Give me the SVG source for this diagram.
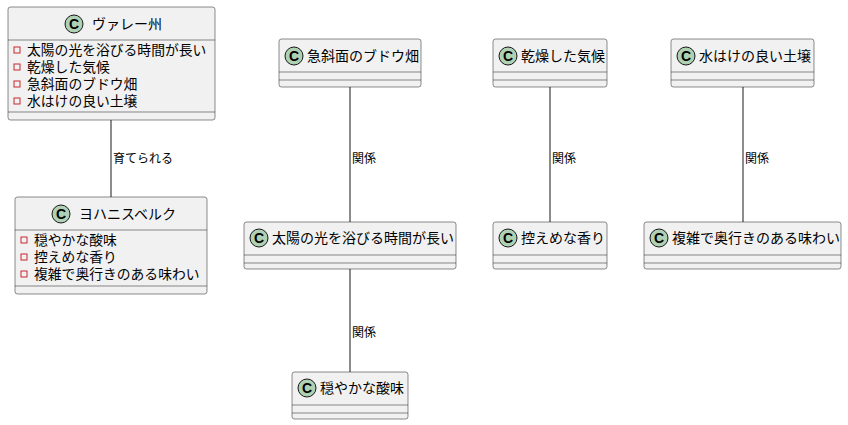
<svg xmlns="http://www.w3.org/2000/svg" width="848" height="425" viewBox="0 0 848 425">
<style>
.b{fill:#F1F1F1;stroke:#181818;stroke-width:0.5}
.l{stroke:#181818;stroke-width:0.5}
.i{fill:#ADD1B2;stroke:#181818;stroke-width:1}
.c{font-family:"Liberation Sans","Noto Sans CJK JP",sans-serif;font-size:14px;font-weight:bold;fill:#000;text-anchor:middle}
.t{font-family:"Noto Sans CJK JP",sans-serif;font-size:14px;fill:#000}
.f{font-family:"Noto Sans CJK JP",sans-serif;font-size:13.8px;fill:#000}
.e{font-family:"Noto Sans CJK JP",sans-serif;font-size:12px;fill:#000}
.v{fill:none;stroke:#C82930;stroke-width:1}
.k{stroke:#181818;stroke-width:1;fill:none}
</style>
<g id="valley">
<rect class="b" x="8" y="7" width="207" height="113" rx="2.5"/>
<circle class="i" cx="74" cy="24" r="9"/><text class="c" x="74" y="29">C</text>
<text class="t" x="92" y="29">ヴァレー州</text>
<line class="l" x1="8" y1="40" x2="215" y2="40"/>
<rect class="v" x="14" y="47" width="6" height="6"/><text class="f" x="27" y="55">太陽の光を浴びる時間が長い</text>
<rect class="v" x="14" y="64" width="6" height="6"/><text class="f" x="27" y="72">乾燥した気候</text>
<rect class="v" x="14" y="81" width="6" height="6"/><text class="f" x="27" y="89">急斜面のブドウ畑</text>
<rect class="v" x="14" y="98" width="6" height="6"/><text class="f" x="27" y="106">水はけの良い土壌</text>
<line class="l" x1="8" y1="112" x2="215" y2="112"/>
</g>
<g id="johannisberg">
<rect class="b" x="15" y="197" width="192" height="97" rx="2.5"/>
<circle class="i" cx="61" cy="214" r="9"/><text class="c" x="61" y="219">C</text>
<text class="t" x="79" y="219">ヨハニスベルク</text>
<line class="l" x1="15" y1="230" x2="207" y2="230"/>
<rect class="v" x="21" y="237" width="6" height="6"/><text class="f" x="34" y="245">穏やかな酸味</text>
<rect class="v" x="21" y="254" width="6" height="6"/><text class="f" x="34" y="262">控えめな香り</text>
<rect class="v" x="21" y="271" width="6" height="6"/><text class="f" x="34" y="279">複雑で奥行きのある味わい</text>
<line class="l" x1="15" y1="286" x2="207" y2="286"/>
</g>
<g id="slope">
<rect class="b" x="279" y="39" width="142" height="48" rx="2.5"/>
<circle class="i" cx="294" cy="56" r="9"/><text class="c" x="294" y="61">C</text>
<text class="t" x="307" y="61">急斜面のブドウ畑</text>
<line class="l" x1="279" y1="72" x2="421" y2="72"/><line class="l" x1="279" y1="80" x2="421" y2="80"/>
</g>
<g id="dry">
<rect class="b" x="493" y="39" width="114" height="48" rx="2.5"/>
<circle class="i" cx="508" cy="56" r="9"/><text class="c" x="508" y="61">C</text>
<text class="t" x="521" y="61">乾燥した気候</text>
<line class="l" x1="493" y1="72" x2="607" y2="72"/><line class="l" x1="493" y1="80" x2="607" y2="80"/>
</g>
<g id="soil">
<rect class="b" x="671" y="39" width="143" height="48" rx="2.5"/>
<circle class="i" cx="686" cy="56" r="9"/><text class="c" x="686" y="61">C</text>
<text class="t" x="699" y="61">水はけの良い土壌</text>
<line class="l" x1="671" y1="72" x2="814" y2="72"/><line class="l" x1="671" y1="80" x2="814" y2="80"/>
</g>
<g id="sun">
<rect class="b" x="244" y="222" width="212" height="47" rx="2.5"/>
<circle class="i" cx="259" cy="238" r="9"/><text class="c" x="259" y="243">C</text>
<text class="t" x="272" y="243">太陽の光を浴びる時間が長い</text>
<line class="l" x1="244" y1="255" x2="456" y2="255"/><line class="l" x1="244" y1="263" x2="456" y2="263"/>
</g>
<g id="aroma">
<rect class="b" x="493" y="222" width="114" height="47" rx="2.5"/>
<circle class="i" cx="508" cy="238" r="9"/><text class="c" x="508" y="243">C</text>
<text class="t" x="521" y="243">控えめな香り</text>
<line class="l" x1="493" y1="255" x2="607" y2="255"/><line class="l" x1="493" y1="263" x2="607" y2="263"/>
</g>
<g id="complex">
<rect class="b" x="644" y="222" width="197" height="47" rx="2.5"/>
<circle class="i" cx="659" cy="238" r="9"/><text class="c" x="659" y="243">C</text>
<text class="t" x="672" y="243">複雑で奥行きのある味わい</text>
<line class="l" x1="644" y1="255" x2="841" y2="255"/><line class="l" x1="644" y1="263" x2="841" y2="263"/>
</g>
<g id="acid">
<rect class="b" x="292" y="372" width="116" height="47" rx="2.5"/>
<circle class="i" cx="307" cy="388" r="9"/><text class="c" x="307" y="393">C</text>
<text class="t" x="320" y="393">穏やかな酸味</text>
<line class="l" x1="292" y1="405" x2="408" y2="405"/><line class="l" x1="292" y1="413" x2="408" y2="413"/>
</g>
<g id="connectors">
<line class="k" x1="111" y1="120" x2="111" y2="197"/><text class="e" x="113" y="163">育てられる</text>
<line class="k" x1="350" y1="87" x2="350" y2="222"/><text class="e" x="352" y="163">関係</text>
<line class="k" x1="550" y1="87" x2="550" y2="222"/><text class="e" x="552" y="163">関係</text>
<line class="k" x1="743" y1="87" x2="743" y2="222"/><text class="e" x="745" y="163">関係</text>
<line class="k" x1="350" y1="269" x2="350" y2="372"/><text class="e" x="352" y="337">関係</text>
</g>
</svg>
